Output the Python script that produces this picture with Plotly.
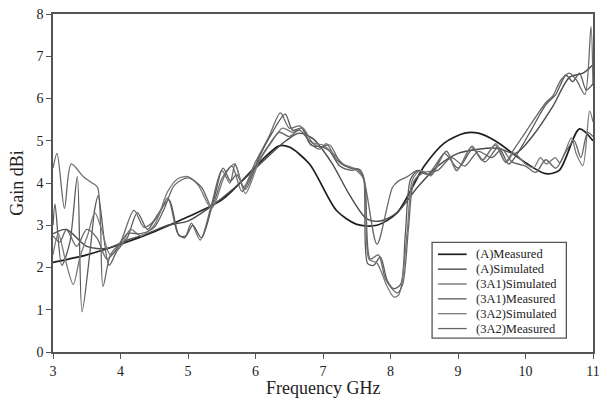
import plotly.graph_objects as go

# ---- data ----
a_meas_f = [3.0, 3.5, 4.0, 4.5, 5.0, 5.5, 5.8, 6.1, 6.35, 6.5, 6.8, 7.2, 7.5, 7.8, 8.1, 8.5, 8.8, 9.1, 9.3, 9.55, 10.0, 10.3, 10.5, 10.8, 11.0]
a_meas_g = [2.12, 2.3, 2.55, 2.85, 3.2, 3.6, 4.05, 4.55, 4.88, 4.85, 4.45, 3.35, 3.02, 3.0, 3.3, 4.4, 4.95, 5.18, 5.18, 5.0, 4.48, 4.22, 4.3, 5.28, 5.0]

a_sim_f = [3.0, 3.2, 3.5, 3.8, 4.1, 4.4, 4.7, 5.0, 5.3, 5.7, 6.1, 6.45, 6.65, 6.85, 7.12, 7.4, 7.65, 7.85, 8.1, 8.4, 8.7, 9.0, 9.3, 9.6, 9.85, 10.1, 10.4, 10.65, 10.85, 11.0]
a_sim_g = [2.8, 2.9, 2.5, 2.45, 2.65, 2.8, 3.0, 3.1, 3.4, 3.9, 4.5, 5.0, 5.18, 5.05, 4.5, 3.7, 3.15, 3.1, 3.3, 3.9, 4.4, 4.7, 4.8, 4.82, 4.7, 5.1, 5.8, 6.5, 6.6, 6.8]

s1_sim_f = [3.0, 3.06, 3.17, 3.27, 3.45, 3.58, 3.66, 3.74, 3.85, 4.0, 4.2, 4.35, 4.55, 4.7, 4.85, 4.95, 5.05, 5.18, 5.35, 5.5, 5.62, 5.7, 5.82, 6.0, 6.2, 6.37, 6.5, 6.66, 6.8, 6.95, 7.05, 7.2, 7.33, 7.5, 7.6, 7.8, 8.03, 8.12, 8.25, 8.4, 8.55, 8.83, 8.98, 9.2, 9.36, 9.55, 9.7, 9.83, 10.0, 10.3, 10.4, 10.53, 10.65, 10.75, 10.88, 10.97, 11.0]
s1_sim_g = [4.35, 4.7, 3.4, 4.45, 4.15, 4.0, 3.9, 1.55, 2.3, 2.6, 3.35, 2.95, 3.2, 3.65, 2.8, 2.7, 3.05, 2.65, 3.5, 4.3, 4.0, 4.45, 3.9, 4.5, 5.1, 5.66, 5.3, 5.35, 4.95, 4.8, 4.93, 4.55, 4.4, 4.33, 4.1, 2.55, 3.9, 4.05, 4.15, 4.3, 4.2, 4.75, 4.3, 4.85, 4.55, 4.9, 4.5, 4.8, 5.2, 5.9, 6.05, 6.45, 6.6, 6.45, 6.1, 7.7, 6.3]

s1_meas_f = [3.0, 3.03, 3.13, 3.25, 3.36, 3.43, 3.55, 3.62, 3.67, 3.83, 3.95, 4.1, 4.25, 4.4, 4.55, 4.72, 4.87, 4.97, 5.07, 5.2, 5.38, 5.52, 5.63, 5.72, 5.85, 6.05, 6.25, 6.44, 6.55, 6.7, 6.82, 7.0, 7.1, 7.25, 7.42, 7.53, 7.6, 7.66, 7.75, 7.85, 7.95, 8.05, 8.15, 8.22, 8.3, 8.42, 8.6, 8.8, 9.0, 9.22, 9.4, 9.6, 9.75, 9.9, 10.1, 10.3, 10.45, 10.6, 10.7, 10.8, 10.9, 11.0]
s1_meas_g = [3.0, 3.5, 2.05, 2.6, 4.15, 0.95, 2.4, 3.4, 3.7, 2.05, 2.4, 2.7, 3.3, 2.9, 3.25, 3.6, 2.75, 2.75, 3.0, 2.7, 3.6, 4.35, 4.05, 4.2, 3.85, 4.6, 5.2, 5.63, 5.25, 5.3, 4.9, 4.85, 4.75, 4.4, 4.3, 4.33, 4.15, 2.1, 2.05, 2.25, 1.7, 1.5, 1.6, 2.8, 4.1, 4.3, 4.2, 4.7, 4.35, 4.8, 4.5, 4.85, 4.45, 4.75, 5.3, 5.85, 6.1, 6.55, 6.4, 6.6, 6.2, 6.35]

s2_sim_f = [3.0, 3.08, 3.18, 3.3, 3.4, 3.52, 3.62, 3.72, 3.85, 4.0, 4.15, 4.3, 4.5, 4.7, 4.85, 5.0, 5.15, 5.35, 5.55, 5.69, 5.85, 6.05, 6.25, 6.4, 6.55, 6.7, 6.85, 7.0, 7.15, 7.3, 7.45, 7.6, 7.68, 7.8, 7.95, 8.05, 8.12, 8.17, 8.25, 8.33, 8.45, 8.6, 8.83, 8.98, 9.21, 9.36, 9.56, 9.71, 9.83, 10.0, 10.12, 10.22, 10.31, 10.44, 10.51, 10.68, 10.75, 10.85, 10.95, 11.0]
s2_sim_g = [2.3, 2.8, 2.2, 1.6, 2.25, 2.8, 3.3, 2.9, 2.3, 2.5, 2.9, 2.75, 3.0, 3.8, 4.1, 4.15, 3.95, 3.4, 4.2, 4.45, 3.75, 4.5, 5.0, 5.3, 5.2, 5.3, 4.95, 4.9, 4.7, 4.45, 4.35, 4.1, 2.2, 2.1, 1.55, 1.3, 1.35, 1.65, 2.9, 4.1, 4.3, 4.17, 4.76, 4.29, 4.88, 4.53, 4.93, 4.48, 4.7, 4.45, 4.36, 4.6, 4.45, 4.6, 4.48, 5.07, 4.7, 4.41, 5.7, 5.45]

s2_meas_f = [3.0, 3.1, 3.2, 3.35, 3.5, 3.65, 3.8, 3.95, 4.1, 4.3, 4.5, 4.65, 4.8, 5.0, 5.2, 5.35, 5.5, 5.65, 5.8, 6.0, 6.2, 6.35, 6.5, 6.65, 6.8, 6.95, 7.1, 7.25, 7.4, 7.55, 7.62, 7.7, 7.82, 7.92, 8.02, 8.1, 8.18, 8.27, 8.35, 8.5, 8.7, 8.9, 9.1, 9.3, 9.5, 9.65, 9.8, 10.0, 10.15, 10.3, 10.45, 10.6, 10.72, 10.82, 10.92, 11.0]
s2_meas_g = [2.75, 2.6, 2.9, 2.5, 2.9, 2.7, 2.2, 2.45, 2.8, 2.8, 2.95, 3.4, 3.95, 4.12, 3.9, 3.45, 4.1, 4.4, 3.8, 4.4, 4.9, 5.2, 5.1, 5.25, 5.0, 4.85, 4.9, 4.5, 4.35, 4.3, 4.0, 2.2, 2.3, 1.75, 1.5, 1.4, 1.6, 3.0, 4.05, 4.25, 4.3, 4.6, 4.4, 4.75, 4.6, 4.8, 4.5, 4.4, 4.25, 4.55, 4.35, 4.75, 5.0, 4.6, 5.2, 5.1]

names = ["(A)Measured", "(A)Simulated", "(3A1)Simulated", "(3A1)Measured", "(3A2)Simulated", "(3A2)Measured"]
series_f = [a_meas_f, a_sim_f, s1_sim_f, s1_meas_f, s2_sim_f, s2_meas_f]
series_g = [a_meas_g, a_sim_g, s1_sim_g, s1_meas_g, s2_sim_g, s2_meas_g]
colors = ["#1e1e1e", "#4a4a4a", "#6a6a6a", "#5a5a5a", "#7a7a7a", "#666666"]
widths = [1.7, 1.4, 1.3, 1.3, 1.3, 1.3]

W, H = 607, 406
ML, MR, MT, MB = 53, 7, 13, 54
PW, PH = W - ML - MR, H - MT - MB


def px_x(p):  # page pixel -> paper x
    return (p - ML) / PW


def px_y(p):  # page pixel -> paper y
    return (H - MB - p) / PH


fig = go.Figure()
for n, f, g, c, w in zip(names, series_f, series_g, colors, widths):
    fig.add_trace(go.Scatter(x=f, y=g, mode="lines", name=n, showlegend=False,
                             line=dict(color=c, width=w, shape="spline", smoothing=0.8)))

# hand-drawn legend box (compact like the reference)
shapes = [dict(type="rect", xref="paper", yref="paper",
               x0=px_x(437), x1=px_x(573), y0=px_y(338), y1=px_y(242),
               line=dict(color="#555", width=1.3), fillcolor="white", layer="above")]
annotations = []
for i, (n, c, w) in enumerate(zip(names, colors, widths)):
    yc = 254 + 14.9 * i
    shapes.append(dict(type="line", xref="paper", yref="paper",
                       x0=px_x(443), x1=px_x(472), y0=px_y(yc), y1=px_y(yc),
                       line=dict(color=c, width=w), layer="above"))
    annotations.append(dict(text=n, xref="paper", yref="paper", x=px_x(479), y=px_y(yc),
                            xanchor="left", yanchor="middle", showarrow=False,
                            font=dict(family="Liberation Serif", size=12.5, color="#222")))

# x-axis title placed like the reference
annotations.append(dict(text="Frequency GHz", xref="paper", yref="paper", x=0.5, y=px_y(388),
                        xanchor="center", yanchor="middle", showarrow=False,
                        font=dict(family="Liberation Serif", size=18, color="#222")))

axis_common = dict(showgrid=False, zeroline=False, showline=True, linecolor="#555",
                   linewidth=1.5, mirror=True, ticks="outside", ticklen=5,
                   tickcolor="#555", tickfont=dict(family="Liberation Serif", size=14, color="#222"))

fig.update_layout(
    width=W, height=H,
    margin=dict(l=ML, r=MR, t=MT, b=MB),
    plot_bgcolor="white", paper_bgcolor="white",
    font=dict(family="Liberation Serif", color="#222"),
    xaxis=dict(range=[3, 11], dtick=1, **axis_common),
    yaxis=dict(range=[0, 8], dtick=1, title=dict(text="Gain dBi", font=dict(size=18), standoff=8), **axis_common),
    shapes=shapes, annotations=annotations,
    showlegend=False,
)

fig.write_html("out.html", config={"displayModeBar": False},
               post_script="document.body.style.margin='0px';")
